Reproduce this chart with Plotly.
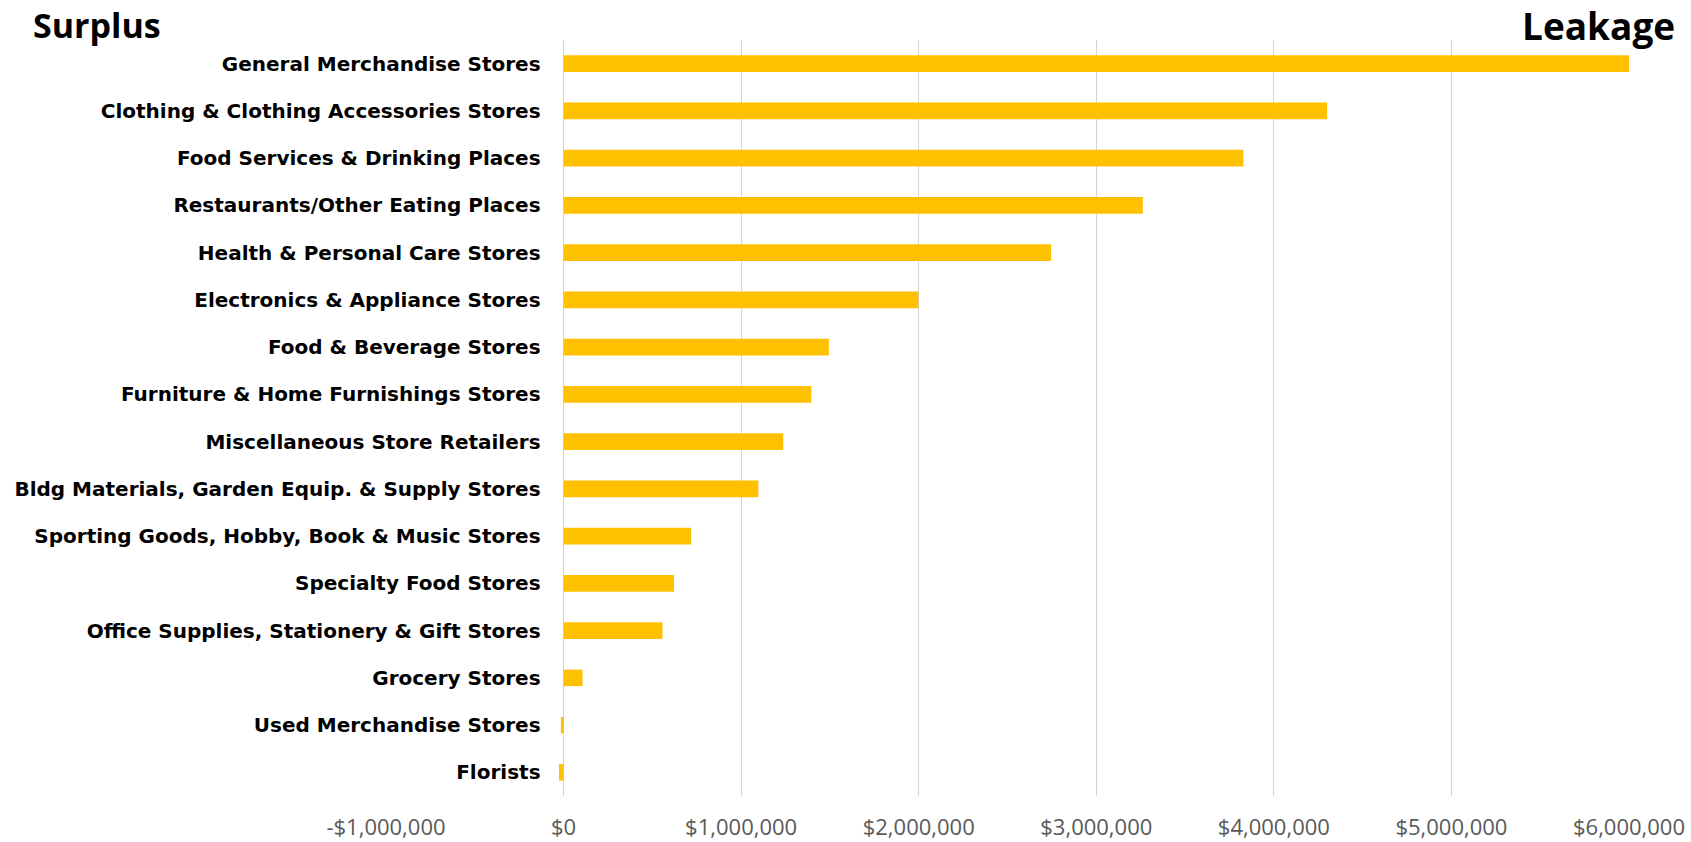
import plotly.graph_objects as go

# Retail categories, top to bottom
categories = [
    "General Merchandise Stores",
    "Clothing & Clothing Accessories Stores",
    "Food Services & Drinking Places",
    "Restaurants/Other Eating Places",
    "Health & Personal Care Stores",
    "Electronics & Appliance Stores",
    "Food & Beverage Stores",
    "Furniture & Home Furnishings Stores",
    "Miscellaneous Store Retailers",
    "Bldg Materials, Garden Equip. & Supply Stores",
    "Sporting Goods, Hobby, Book & Music Stores",
    "Specialty Food Stores",
    "Office Supplies, Stationery & Gift Stores",
    "Grocery Stores",
    "Used Merchandise Stores",
    "Florists",
]

# Retail gap in dollars (positive = leakage, negative = surplus)
gap_values = [
    6000000, 4300000, 3828000, 3262000, 2745000, 1998000, 1494000, 1395000,
    1237000, 1097000, 718000, 622000, 557000, 107000, -15000, -26000,
]

x_ticks = [-1000000, 0, 1000000, 2000000, 3000000, 4000000, 5000000, 6000000]
x_tick_labels = ["-$1,000,000", "$0", "$1,000,000", "$2,000,000", "$3,000,000",
                 "$4,000,000", "$5,000,000", "$6,000,000"]

TICK_FONT = "Century Gothic, Open Sans, sans-serif"
LABEL_FONT = "Century Gothic, DejaVu Sans, sans-serif"
TITLE_FONT = "Century Gothic, Open Sans, sans-serif"
W, H = 1691, 842
ML, MR, MT, MB = 386, 62, 40, 46
PW = W - ML - MR
PH = H - MT - MB
XMIN, XMAX = -1000000, 6000000

fig = go.Figure(
    go.Bar(
        x=gap_values,
        y=categories,
        orientation="h",
        marker=dict(color="#FFC000", line=dict(width=0)),
        hoverinfo="x+y",
    )
)

fig.update_layout(
    width=W,
    height=H,
    margin=dict(l=ML, r=MR, t=MT, b=MB, pad=0, autoexpand=False),
    paper_bgcolor="white",
    plot_bgcolor="white",
    bargap=0.65,
    showlegend=False,
    xaxis=dict(
        range=[XMIN, XMAX],
        automargin=False,
        tickvals=x_ticks,
        ticktext=x_tick_labels,
        showgrid=True,
        gridcolor="#d4d4d4",
        gridwidth=1,
        zeroline=True,
        zerolinecolor="#d4d4d4",
        zerolinewidth=1,
        showline=False,
        ticks="",
        tickfont=dict(family=TICK_FONT, size=22, color="#595959"),
        ticklabelstandoff=16,
    ),
    yaxis=dict(
        categoryorder="array",
        categoryarray=categories,
        autorange="reversed",
        automargin=False,
        anchor="free",
        position=(0 - XMIN) / (XMAX - XMIN),
        showgrid=False,
        zeroline=False,
        showline=False,
        ticks="",
        tickfont=dict(family=LABEL_FONT, size=20, color="#000000", weight="bold"),
        ticklabelstandoff=23,
    ),
)

fig.add_annotation(
    text="<b>Surplus</b>",
    xref="paper", yref="paper",
    x=(31 - ML) / PW, y=(H - MB - 25) / PH,
    xanchor="left", yanchor="middle",
    showarrow=False,
    font=dict(family=TITLE_FONT, size=34, color="#000000"),
)
fig.add_annotation(
    text="<b>Leakage</b>",
    xref="paper", yref="paper",
    x=(1677 - ML) / PW, y=(H - MB - 26) / PH,
    xanchor="right", yanchor="middle",
    showarrow=False,
    font=dict(family=TITLE_FONT, size=37, color="#000000"),
)

fig.write_html("out.html")
